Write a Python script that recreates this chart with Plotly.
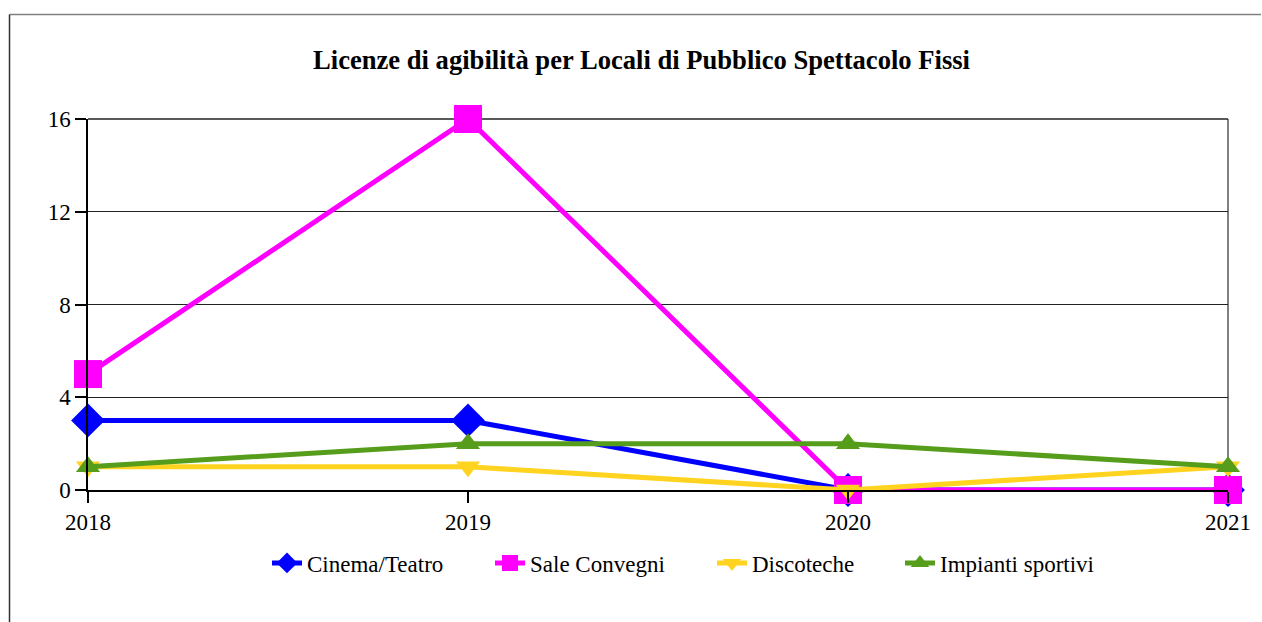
import plotly.graph_objects as go

years = [2018, 2019, 2020, 2021]
cinema_teatro = [3, 3, 0, 0]
sale_convegni = [5, 16, 0, 0]
discoteche = [1, 1, 0, 1]
impianti_sportivi = [1, 2, 2, 1]
y_ticks = [0, 4, 8, 12, 16]

W, H = 1262, 622
L, R, T, B = 88, 1228, 119, 490

series = [
    ("Cinema/Teatro", cinema_teatro, "#0000FF", "diamond", 26, "legend", 307),
    ("Sale Convegni", sale_convegni, "#FF00FF", "square", 28, "legend2", 530),
    ("Discoteche", discoteche, "#FFD320", "triangle-down", 21, "legend3", 752),
    ("Impianti sportivi", impianti_sportivi, "#579D1C", "triangle-up", 21, "legend4", 940),
]

def px_to_paper_x(p):
    return (p - L) / (R - L)

def px_to_paper_y(p):
    return (B - p) / (B - T)

font_family = "Liberation Serif, Times New Roman, serif"

fig = go.Figure()
legends = {}
for name, vals, col, sym, sz, lg, text_x in series:
    fig.add_trace(go.Scatter(
        x=years, y=vals, name=name, mode="lines+markers",
        line=dict(color=col, width=5),
        marker=dict(symbol=sym, size=sz, color=col, line=dict(width=0)),
        cliponaxis=False, legend=lg,
    ))
    legends[lg] = dict(
        orientation="h", x=px_to_paper_x(text_x - 40), xanchor="left",
        y=px_to_paper_y(563), yanchor="middle",
        font=dict(family=font_family, size=23, color="black"),
        bgcolor="rgba(0,0,0,0)",
    )

fig.update_layout(
    width=W, height=H,
    margin=dict(l=L, r=W - R, t=T, b=H - B, autoexpand=False),
    paper_bgcolor="white", plot_bgcolor="white",
    font=dict(family=font_family, size=23, color="black"),
    title=dict(
        text="<b>Licenze di agibilità per Locali di Pubblico Spettacolo Fissi</b>",
        x=px_to_paper_x(641.5), xref="paper", xanchor="center",
        y=1 - 60 / H, yanchor="middle",
        font=dict(family=font_family, size=26.6, color="black"),
    ),
    showlegend=True,
    xaxis=dict(
        range=[2018, 2021], tickmode="array", tickvals=years,
        ticktext=[str(y) for y in years],
        showgrid=False, zeroline=False,
        showline=True, linecolor="black", linewidth=1.5,
        ticks="outside", ticklen=11, tickcolor="black", tickwidth=1.5,
        tickfont=dict(family=font_family, size=23, color="black"),
    ),
    yaxis=dict(
        range=[0, 16], tickmode="array", tickvals=y_ticks,
        showgrid=True, gridcolor="#222222", gridwidth=1,
        zeroline=False,
        showline=True, linecolor="black", linewidth=1.5,
        ticks="outside", ticklen=11, tickcolor="black", tickwidth=1.5,
        tickfont=dict(family=font_family, size=23, color="black"),
    ),
    shapes=[
        dict(type="line", xref="paper", yref="paper", x0=1, x1=1, y0=0, y1=1,
             line=dict(color="#808080", width=2), layer="below"),
        dict(type="line", xref="paper", yref="paper", x0=0, x1=1, y0=1, y1=1,
             line=dict(color="#222222", width=1.5), layer="below"),
        dict(type="line", xref="paper", yref="paper",
             x0=px_to_paper_x(9.5), x1=px_to_paper_x(1261),
             y0=px_to_paper_y(14.5), y1=px_to_paper_y(14.5),
             line=dict(color="#808080", width=1.5)),
        dict(type="line", xref="paper", yref="paper",
             x0=px_to_paper_x(9.5), x1=px_to_paper_x(9.5),
             y0=px_to_paper_y(14.5), y1=px_to_paper_y(622),
             line=dict(color="#333333", width=1.5)),
    ],
    **legends,
)

fig.write_html(
    "out.html",
    config={"displayModeBar": False},
    post_script="document.body.style.margin='0';document.body.style.overflow='hidden';",
)
